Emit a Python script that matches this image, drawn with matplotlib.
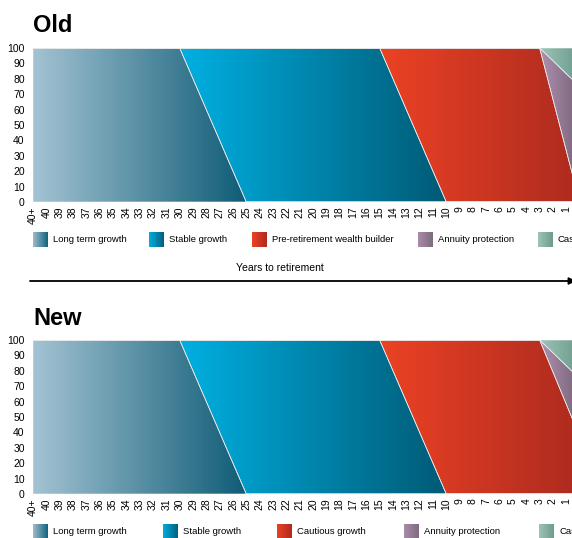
import numpy as np
import matplotlib
matplotlib.use("Agg")
import matplotlib.pyplot as plt
from matplotlib.colors import LinearSegmentedColormap

plt.rcParams['font.family'] = ['Liberation Sans', 'DejaVu Sans']

# years to retirement, "40+" first; the last point (0) lies past the right edge
years = ["40+"] + [str(y) for y in range(40, 0, -1)] + [""]

# stacked shares (%) for each year
long_term = [100]*12 + [80, 60, 40, 20] + [0]*26
stable = [0]*12 + [20, 40, 60, 80] + [100]*11 + [80, 60, 40, 20] + [0]*11
old_preret = [0]*27 + [20, 40, 60, 80] + [100]*8 + [66.7, 33.3, 0]
old_annuity = [0]*39 + [25, 50, 75]
old_cash = [0]*39 + [8.3, 16.7, 25]
new_cautious = [0]*27 + [20, 40, 60, 80] + [100]*8 + [79.2, 58.3, 37.5]
new_annuity = [0]*39 + [12.5, 25, 37.5]
new_cash = [0]*39 + [8.3, 16.7, 25]

old_labels = ["Long term growth", "Stable growth", "Pre-retirement wealth builder",
              "Annuity protection", "Cash"]
new_labels = ["Long term growth", "Stable growth", "Cautious growth",
              "Annuity protection", "Cash"]

# gradient colours (left, right)
grads = [("#a3c3d3", "#0f5c76"),
         ("#00b0e2", "#005a75"),
         ("#ec4224", "#ad2b1f"),
         ("#ae90ae", "#7a637a"),
         ("#9cc4b6", "#6b9a8c")]
swatch_grads = [("#9dbccb", "#12637e"),
                ("#00aee0", "#00607c"),
                ("#ea4126", "#b02a1e"),
                ("#aa8ca9", "#7f6a7f"),
                ("#9dc3b6", "#6d9c8f")]

W, H = 572, 538
fig = plt.figure(figsize=(W/100, H/100), dpi=100)


def draw_panel(ax, series):
    x = np.arange(len(years))
    base = np.zeros(len(years))
    for vals, (c0, c1) in zip(series, grads):
        vals = np.array(vals, dtype=float)
        top = base + vals
        nz = np.where(vals > 0)[0]
        x0 = max(nz[0] - 1, 0)
        x1 = min(nz[-1] + 1, len(years) - 1)
        poly = ax.fill_between(x, base, top, facecolor='none',
                               edgecolor='#e8e8e8', lw=0.5, zorder=3)
        cmap = LinearSegmentedColormap.from_list('g', [c0, c1])
        im = ax.imshow(np.linspace(0, 1, 256).reshape(1, -1), cmap=cmap,
                       extent=[x0, x1, 0, 100], aspect='auto', zorder=2,
                       interpolation='bilinear')
        im.set_clip_path(poly.get_paths()[0], transform=ax.transData)
        base = top
    ax.set_xlim(0, len(years) - 1)
    ax.set_ylim(0, 100)
    ax.set_yticks(range(0, 101, 10))
    ax.set_xticks(x)
    ax.set_xticklabels(years, rotation=90, fontsize=7.5)
    ax.tick_params(axis='y', labelsize=7.5, length=0, pad=6)
    ax.tick_params(axis='x', length=0, pad=3)
    for s in ax.spines.values():
        s.set_visible(False)


ax_old = fig.add_axes([33/W, 1 - 202/H, (579.6 - 33)/W, 154/H])
draw_panel(ax_old, [long_term, stable, old_preret, old_annuity, old_cash])

ax_new = fig.add_axes([33/W, 1 - 494/H, (579.6 - 33)/W, 154/H])
draw_panel(ax_new, [long_term, stable, new_cautious, new_annuity, new_cash])

# overlay in pixel coordinates for titles, legends and the arrow
ov = fig.add_axes([0, 0, 1, 1], zorder=5)
ov.patch.set_alpha(0)


def legend_row(y, labels, xs):
    for lab, sx, (c0, c1) in zip(labels, xs, swatch_grads):
        cmap = LinearSegmentedColormap.from_list('s', [c0, c1])
        ov.imshow(np.linspace(0, 1, 64).reshape(1, -1), cmap=cmap,
                  extent=[sx, sx + 15, y + 7.5, y - 7.5], aspect='auto',
                  interpolation='bilinear')
        ov.text(sx + 20, y, lab, fontsize=6.8, va='center', ha='left')


ov.text(33, 32, "Old", fontsize=17, fontweight='bold', ha='left', va='baseline')
ov.text(33, 325, "New", fontsize=17, fontweight='bold', ha='left', va='baseline')

legend_row(240, old_labels, [33, 149, 252, 418, 538])
legend_row(532, new_labels, [33, 163, 277, 404, 539])

ov.text(280, 268, "Years to retirement", fontsize=7.5, ha='center', va='center')
ov.annotate('', xy=(576, 281), xytext=(30, 281), annotation_clip=False,
            arrowprops=dict(arrowstyle='-|>', lw=1.3, color='black',
                            mutation_scale=10, shrinkA=0, shrinkB=0))

ov.set_xlim(0, W)
ov.set_ylim(H, 0)
ov.axis('off')

fig.savefig("out.png", dpi=100)
